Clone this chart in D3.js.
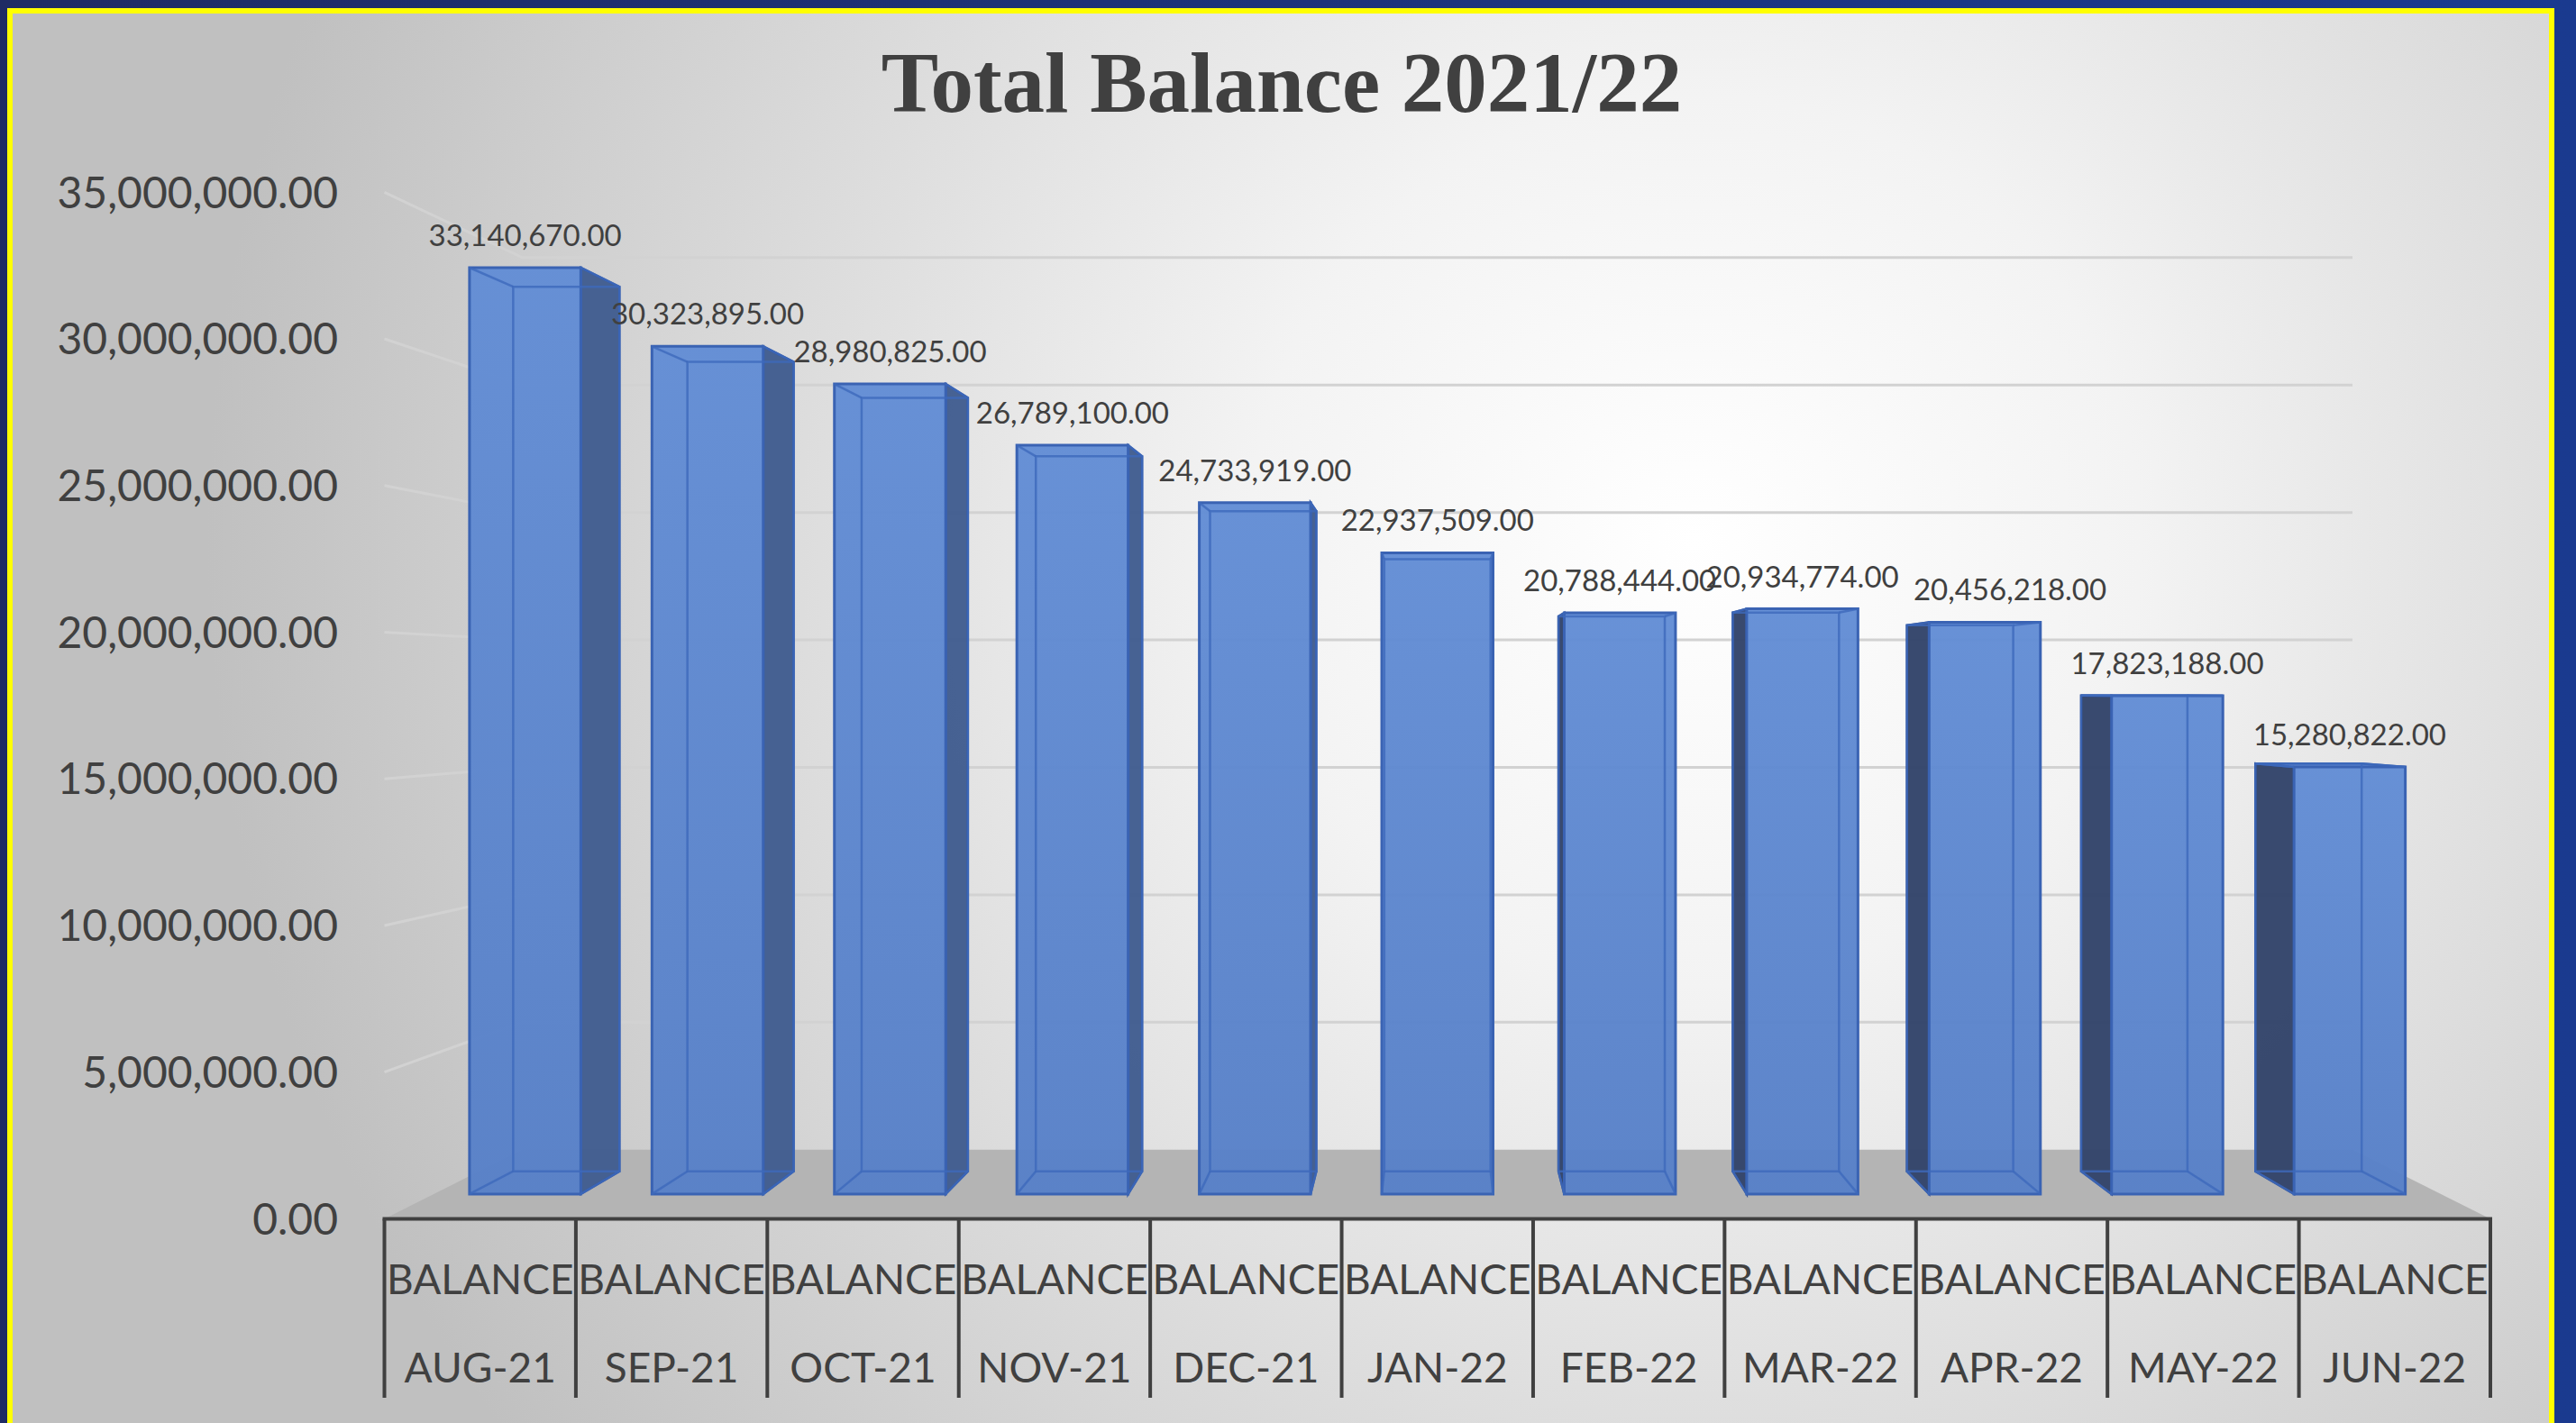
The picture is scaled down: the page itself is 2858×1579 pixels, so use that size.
<!DOCTYPE html>
<html lang="en">
<head>
    <title>Total Balance 2021/22</title>
    <script src="https://d3js.org/d3.v7.min.js"></script>
    <style>
        body { margin: 0; background: #1d2c66; }
        svg { display: block; }
    </style>
</head>
<body>
<script>
    // Data
    const title      = "Total Balance 2021/22";
    const groupLabel = "BALANCE";
    const months     = ["AUG-21", "SEP-21", "OCT-21", "NOV-21", "DEC-21", "JAN-22",
                        "FEB-22", "MAR-22", "APR-22", "MAY-22", "JUN-22"];
    const balances   = [33140670, 30323895, 28980825, 26789100, 24733919, 22937509,
                        20788444, 20934774, 20456218, 17823188, 15280822];
    const yTicks     = [0, 5000000, 10000000, 15000000, 20000000, 25000000, 30000000, 35000000];

    // Dimensions
    const W = 2858, H = 1579;
    const fmt = d3.format(",.2f");

    const svg = d3.select("body").append("svg")
        .attr("width", W).attr("height", H);

    const defs = svg.append("defs");

    const outerGrad = defs.append("linearGradient").attr("id", "outer")
        .attr("x1", "0").attr("x2", "1").attr("y1", "0").attr("y2", "0");
    outerGrad.append("stop").attr("offset", "0").attr("stop-color", "#1f2c64");
    outerGrad.append("stop").attr("offset", "1").attr("stop-color", "#1a3a8f");

    const panelGrad = defs.append("radialGradient").attr("id", "panel")
        .attr("gradientUnits", "userSpaceOnUse")
        .attr("cx", 1880).attr("cy", 600).attr("r", 1650);
    panelGrad.append("stop").attr("offset", "0").attr("stop-color", "#ffffff");
    panelGrad.append("stop").attr("offset", "0.3").attr("stop-color", "#f3f3f3");
    panelGrad.append("stop").attr("offset", "1").attr("stop-color", "#c0c0c0");

    const faceGrad = defs.append("linearGradient").attr("id", "face")
        .attr("x1", "0").attr("x2", "0").attr("y1", "0").attr("y2", "1");
    faceGrad.append("stop").attr("offset", "0").attr("stop-color", "#628dd5");
    faceGrad.append("stop").attr("offset", "1").attr("stop-color", "#5780c8");

    // backgrounds
    svg.append("rect").attr("width", W).attr("height", H).attr("fill", "url(#outer)");
    svg.append("rect")
        .attr("x", 11).attr("y", 12).attr("width", 2820).attr("height", H)
        .attr("fill", "url(#panel)")
        .attr("stroke", "#ffff00").attr("stroke-width", 6);

    // Title
    svg.append("text")
        .attr("x", 1422).attr("y", 124)
        .attr("text-anchor", "middle")
        .attr("font-family", "'Liberation Serif', 'Times New Roman', serif")
        .attr("font-weight", "bold")
        .attr("font-size", 95)
        .attr("fill", "#404040")
        .text(title);

    // Scales (front plane of the 3D box)
    const x = d3.scaleBand().domain(months).range([426.5, 2763]);
    const y = d3.scaleLinear().domain([0, 35000000]).range([1352.4, 213.3]);

    // perspective: points shrink towards a vanishing point as depth grows
    const vp = [1595, 767];
    const sBack = 0.869, sBar0 = 0.953, sBar1 = 0.910;
    const proj = (px, py, s) => [vp[0] + s * (px - vp[0]), vp[1] + s * (py - vp[1])];
    const poly = pts => pts.map(p => p.join(",")).join(" ");

    const x0 = x.range()[0], x1 = x.range()[1];

    // floor
    svg.append("polygon")
        .attr("points", poly([proj(x0, y(0), 1), proj(x1, y(0), 1),
                              proj(x1, y(0), sBack), proj(x0, y(0), sBack)]))
        .attr("fill", "#b4b4b4");

    // gridlines: left wall and back wall
    const grid = svg.append("g")
        .attr("stroke", "#d2d2d2").attr("stroke-width", 3).attr("fill", "none");
    yTicks.filter(t => t > 0).forEach(t => {
        const a = proj(x0, y(t), 1), b = proj(x0, y(t), sBack), c = proj(x1, y(t), sBack);
        grid.append("polyline").attr("points", poly([a, b, c]));
    });

    // y axis labels
    svg.append("g").selectAll("text")
        .data(yTicks).enter()
        .append("text")
        .attr("x", 375)
        .attr("y", d => y(d))
        .attr("dy", "0.36em")
        .attr("text-anchor", "end")
        .attr("font-family", "Lato, 'Open Sans', sans-serif")
        .attr("font-size", 48)
        .attr("fill", "#404040")
        .text(d => fmt(d));

    // bars
    const barFrac = 0.61;
    const bars = svg.append("g");
    months.forEach((m, i) => {
        const v = balances[i];
        const bw = x.bandwidth() * barFrac;
        const xl = x(m) + (x.bandwidth() - bw) / 2, xr = xl + bw;
        const yb = y(0), yt = y(v);
        const F = [proj(xl, yb, sBar0), proj(xr, yb, sBar0), proj(xr, yt, sBar0), proj(xl, yt, sBar0)];
        const B = [proj(xl, yb, sBar1), proj(xr, yb, sBar1), proj(xr, yt, sBar1), proj(xl, yt, sBar1)];
        const g = bars.append("g");

        // side face
        if (xr < vp[0]) {
            g.append("polygon").attr("points", poly([F[1], B[1], B[2], F[2]]))
                .attr("fill", "#415d8f").attr("fill-opacity", 0.97)
                .attr("stroke", "#2f55a3").attr("stroke-width", 2.5);
        } else if (xl > vp[0]) {
            g.append("polygon").attr("points", poly([F[0], B[0], B[3], F[3]]))
                .attr("fill", "#33446a").attr("fill-opacity", 0.97)
                .attr("stroke", "#2f4a8a").attr("stroke-width", 2.5);
        }
        // top face, only seen when below eye level
        if (yt > vp[1]) {
            g.append("polygon").attr("points", poly([F[3], F[2], B[2], B[3]]))
                .attr("fill", "#6b94da")
                .attr("stroke", "#3a63b3").attr("stroke-width", 2.5);
        }
        // front face
        g.append("polygon").attr("points", poly(F))
            .attr("fill", "url(#face)").attr("fill-opacity", 0.96)
            .attr("stroke", "#3a63b3").attr("stroke-width", 3);

        // edges seen through the glassy bar
        const inner = g.append("g").attr("stroke", "#3d69bb").attr("stroke-width", 2.5)
            .attr("fill", "none").attr("stroke-opacity", 0.8);
        inner.append("polygon").attr("points", poly(B));
        for (let k = 0; k < 4; k++) {
            inner.append("line")
                .attr("x1", F[k][0]).attr("y1", F[k][1])
                .attr("x2", B[k][0]).attr("y2", B[k][1]);
        }
    });

    // data labels
    svg.append("g").selectAll("text")
        .data(months).enter()
        .append("text")
        .attr("x", (d, i) => {
            const c = proj(x(d) + x.bandwidth() / 2, y(0), sBar0)[0];
            return d === "APR-22" ? c + 28 : c;   // Excel nudged this one off its neighbour
        })
        .attr("y", (d, i) => proj(0, y(balances[i]), sBar0)[1] - 24)
        .attr("text-anchor", "middle")
        .attr("font-family", "Lato, 'Open Sans', sans-serif")
        .attr("font-size", 33)
        .attr("fill", "#404040")
        .text((d, i) => fmt(balances[i]));

    // category axis (two level table)
    const axis = svg.append("g").attr("stroke", "#404040").attr("stroke-width", 4);
    axis.append("line")
        .attr("x1", x0 - 2).attr("x2", x1 + 2)
        .attr("y1", y(0)).attr("y2", y(0));
    months.concat(["end"]).forEach((m, i) => {
        const xx = i < months.length ? x(m) : x1;
        axis.append("line")
            .attr("x1", xx).attr("x2", xx)
            .attr("y1", y(0)).attr("y2", 1551);
    });

    const cat = svg.append("g")
        .attr("font-family", "Lato, 'Open Sans', sans-serif")
        .attr("font-size", 46)
        .attr("fill", "#404040")
        .attr("text-anchor", "middle");
    months.forEach(m => {
        const cx = x(m) + x.bandwidth() / 2;
        cat.append("text").attr("x", cx).attr("y", 1436).text(groupLabel);
        cat.append("text").attr("x", cx).attr("y", 1534).text(m);
    });
</script>
</body>
</html>
